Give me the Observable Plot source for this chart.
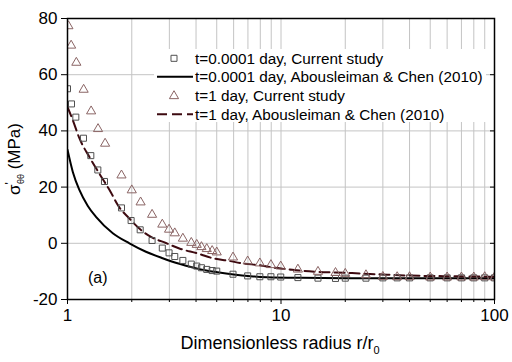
<!DOCTYPE html>
<html><head><meta charset="utf-8">
<script src="https://cdn.jsdelivr.net/npm/d3@7"></script>
<script src="https://cdn.jsdelivr.net/npm/@observablehq/plot@0.6"></script>
<style>
body{margin:0;background:#fff}
#chart{position:relative;width:512px;height:362px;font-family:Arial,"Liberation Sans",sans-serif}
</style>
</head><body><div id="chart"></div>
<script>
// ---- tick labels / grid ----
const xMajorTicks = [1, 10, 100];
const xMinorTicks = [2, 3, 4, 5, 6, 7, 8, 9, 20, 30, 40, 50, 60, 70, 80, 90];
const xGrid = [2, 3, 4, 5, 6, 7, 8, 9, 10, 20, 30, 40, 50, 60, 70, 80, 90];
const yTicks = [-20, 0, 20, 40, 60, 80];
const yGrid = [0, 20, 40, 60];
const seriesNames = [
  "t=0.0001 day, Current study",
  "t=0.0001 day, Abousleiman & Chen (2010)",
  "t=1 day, Current study",
  "t=1 day, Abousleiman & Chen (2010)"
];
const panelLabel = "(a)";

// ---- t=0.0001 day, Current study (squares) ----
const sqR = [1.0, 1.044, 1.094, 1.188, 1.286, 1.387, 1.49, 1.79, 1.986, 2.19, 2.49, 2.78, 2.99, 3.18, 3.47, 3.8, 4.03, 4.24, 4.49, 4.76, 5.0, 5.96, 6.98, 7.96, 8.97, 9.97, 12, 14.9, 18, 20, 25, 30, 35, 40, 50, 60, 70, 80, 90, 100];
const sqS = [55, 49.6, 44.9, 37.4, 31.2, 26.1, 22.0, 12.6, 8.1, 4.8, 1.0, -1.7, -3.4, -4.7, -6.1, -7.4, -8.1, -8.7, -9.3, -9.7, -9.9, -11.0, -11.6, -11.9, -11.9, -12.0, -12.2, -12.4, -12.5, -12.4, -12.4, -12.3, -12.3, -12.3, -12.3, -12.3, -12.3, -12.3, -12.3, -12.3];

// ---- t=0.0001 day, Abousleiman & Chen (solid) ----
const solidR = [1.0, 1.059, 1.138, 1.245, 1.36, 1.63, 1.95, 2.33, 2.79, 3.34, 3.86, 4.21, 5.04, 6.0, 7.2, 8.6, 12.4, 20, 50, 100];
const solidS = [33.3, 25.4, 18.9, 13.3, 9.4, 3.6, 0.0, -3.0, -5.3, -7.3, -8.6, -9.3, -10.3, -11.1, -11.7, -12.05, -12.3, -12.4, -12.4, -12.4];

// ---- t=1 day, Current study (triangles) ----
const triR = [1.01, 1.04, 1.10, 1.19, 1.29, 1.39, 1.50, 1.79, 2.0, 2.2, 2.49, 2.78, 2.99, 3.18, 3.47, 3.8, 4.03, 4.24, 4.49, 4.76, 5.0, 5.96, 6.98, 7.96, 8.97, 9.97, 12, 14.9, 18, 20, 25, 30, 35, 40, 50, 60, 70, 80, 90, 100];
const triS = [77.3, 70.4, 64.3, 54.7, 47.0, 40.7, 35.5, 24.2, 18.9, 14.6, 10.2, 6.7, 4.9, 3.6, 1.7, 0.2, -0.5, -1.3, -2.0, -2.7, -3.2, -5.0, -6.4, -7.1, -7.7, -8.2, -9.3, -10.1, -10.5, -10.8, -11.3, -11.9, -12.0, -12.0, -12.1, -12.1, -12.1, -12.1, -12.0, -12.1];

// ---- t=1 day, Abousleiman & Chen (dashed) ----
const dashR = [1.0, 1.059, 1.138, 1.267, 1.41, 1.6, 1.72, 1.95, 2.21, 2.46, 2.89, 3.34, 4.06, 4.85, 5.64, 6.7, 7.9, 9.1, 10.7, 12.6, 15.1, 18, 21.5, 29.8, 40.4, 57.8, 100];
const dashS = [48.5, 43.8, 37.3, 30.7, 24.8, 18.0, 13.6, 8.8, 4.7, 2.3, 0.1, -1.85, -3.6, -5.4, -6.2, -7.2, -7.8, -8.6, -9.2, -9.8, -10.2, -10.4, -10.6, -11.1, -11.5, -11.7, -11.9];

const rows = (xs, ys) => xs.map((r, i) => ({r, s: ys[i]}));
const sq = rows(sqR, sqS), solid = rows(solidR, solidS), tri = rows(triR, triS), dash = rows(dashR, dashS);

const C = {sq: "#505050", solid: "#000000", tri: "#8a6464", dash: "#3d0a10", grid: "#c4c4c4"};
const FONT = 'Arial, "Liberation Sans", sans-serif';
const R = 3.4;

const plot = Plot.plot({
  width: 512, height: 362,
  marginLeft: 67, marginRight: 18, marginTop: 18, marginBottom: 63,
  style: {fontFamily: FONT, fontSize: "17px", background: "white", color: "black", overflow: "visible"},
  x: {type: "log", domain: [1, 100]},
  y: {domain: [-20, 80]},
  marks: [
    Plot.ruleX(xGrid, {stroke: C.grid, strokeWidth: 1}),
    Plot.ruleY(yGrid, {stroke: C.grid, strokeWidth: 1}),
    Plot.line(solid, {x: "r", y: "s", stroke: C.solid, strokeWidth: 2, curve: "monotone-x", clip: true}),
    Plot.line(dash, {x: "r", y: "s", stroke: C.dash, strokeWidth: 2, strokeDasharray: "10,5", curve: "monotone-x", clip: true}),
    Plot.dot(sq, {x: "r", y: "s", symbol: "square", r: R, stroke: C.sq, strokeWidth: 1, fill: "none", clip: true}),
    Plot.dot(tri, {x: "r", y: "s", symbol: "triangle", r: R, stroke: C.tri, strokeWidth: 1, fill: "none", clip: true}),
    Plot.frame({stroke: "black", strokeWidth: 1.5}),
    Plot.axisX(xMajorTicks, {tickSize: 5, tickPadding: 4, tickFormat: d => String(d), fontSize: 17, label: null}),
    Plot.axisX(xMinorTicks, {tickSize: 3, tickFormat: () => "", label: null}),
    Plot.axisY(yTicks, {tickSize: 6, tickPadding: 4, tickFormat: d => String(d), fontSize: 17, label: null}),
    Plot.axisY(yTicks, {anchor: "right", tickSize: -5, tickFormat: () => "", label: null})
  ]
});
document.getElementById("chart").appendChild(plot);

const svg = d3.select(plot);

// panel label
svg.append("text").attr("x", 88).attr("y", 283).attr("text-anchor", "start")
  .attr("font-size", 16).attr("font-family", FONT).text(panelLabel);

// x title
const xt = svg.append("text").attr("x", 280).attr("y", 349).attr("text-anchor", "middle")
  .attr("font-size", 18).attr("font-family", FONT);
xt.append("tspan").text("Dimensionless radius r/r");
xt.append("tspan").attr("font-size", 11).attr("dy", 5).text("0");

// y title
const yt = svg.append("text").attr("transform", "translate(20,159) rotate(-90)").attr("text-anchor", "middle")
  .attr("font-size", 17).attr("font-family", FONT);
yt.append("tspan").text("σ");
yt.append("tspan").attr("font-size", 12).attr("dy", -6).text("'");
yt.append("tspan").attr("font-size", 9).attr("dy", 10).attr("dx", -2).text("θθ");
yt.append("tspan").attr("dy", -4).text(" (MPa)");

// legend
const lg = svg.append("g").attr("font-family", FONT).attr("font-size", 15.3).attr("text-anchor", "start");
lg.append("rect").attr("x", 154).attr("y", 49).attr("width", 332).attr("height", 73).attr("fill", "white");
const rowsY = [58.3, 76.7, 96, 114.3];
const symSize = R * R * Math.PI;
lg.append("path").attr("transform", `translate(174,${rowsY[0]})`).attr("d", d3.symbol(d3.symbolSquare, symSize)())
  .attr("fill", "none").attr("stroke", C.sq);
lg.append("line").attr("x1", 157).attr("x2", 193).attr("y1", rowsY[1]).attr("y2", rowsY[1]).attr("stroke", C.solid).attr("stroke-width", 2);
lg.append("path").attr("transform", `translate(174,${rowsY[2]})`).attr("d", d3.symbol(d3.symbolTriangle, symSize)())
  .attr("fill", "none").attr("stroke", C.tri);
lg.append("line").attr("x1", 157).attr("x2", 193).attr("y1", rowsY[3]).attr("y2", rowsY[3]).attr("stroke", C.dash).attr("stroke-width", 2).attr("stroke-dasharray", "10,5");
seriesNames.forEach((t, i) => {
  lg.append("text").attr("x", 195).attr("y", rowsY[i]).attr("dy", "0.35em").attr("text-anchor", "start").text(t);
});
</script>
</body></html>
